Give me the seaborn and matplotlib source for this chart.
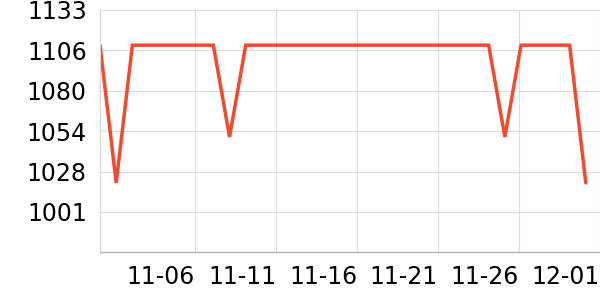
import matplotlib
matplotlib.use("Agg")
import matplotlib.pyplot as plt
import matplotlib.dates as mdates
import seaborn as sns
import numpy as np
import pandas as pd

# ---- data ----
start_date = "2023-10-31 03:00"
values = [1110, 1020, 1110, 1110, 1110, 1110, 1110, 1110, 1050, 1110,
          1110, 1110, 1110, 1110, 1110, 1110, 1110, 1110, 1110, 1110,
          1110, 1110, 1110, 1110, 1110, 1050, 1110, 1110, 1110, 1110,
          1020]
tick_dates = ["2023-11-06", "2023-11-11", "2023-11-16", "2023-11-21",
              "2023-11-26", "2023-12-01"]
tick_labels_x = ["11-06", "11-11", "11-16", "11-21", "11-26", "12-01"]
y_min, y_max = 974.6, 1133.0
tick_labels_y = ["1001", "1028", "1054", "1080", "1106", "1133"]

dates = pd.date_range(start_date, periods=len(values), freq="D")
df = pd.DataFrame({"date": dates, "value": values})

sns.set_style("white")
plt.rcParams["font.family"] = ["DejaVu Sans"]

fig = plt.figure(figsize=(6, 3), dpi=100)
ax = fig.add_axes([100 / 600, (300 - 252.3) / 300, 500 / 600, (252.3 - 10) / 300])

sns.lineplot(data=df, x="date", y="value", ax=ax, color="#f04a2f",
             linewidth=2.5, solid_joinstyle="miter")

ax.set_xlim(dates[0], dates[0] + pd.Timedelta(days=30.77))
ax.set_ylim(y_min, y_max)

yt = np.linspace(y_min, y_max, 7)[1:]
ax.set_yticks(yt)
ax.set_yticklabels(tick_labels_y)
ax.set_xticks(pd.to_datetime(tick_dates))
ax.set_xticklabels(tick_labels_x, ha="right")

ax.set_xlabel("")
ax.set_ylabel("")

ax.grid(True, color="#dddddd", linewidth=0.8)
ax.set_axisbelow(True)
for s in ["top", "right"]:
    ax.spines[s].set_visible(False)
ax.spines["left"].set_color("#d6d6d6")
ax.spines["left"].set_linewidth(0.8)
ax.spines["bottom"].set_color("#b5b5b5")
ax.spines["bottom"].set_linewidth(1.0)

ax.tick_params(axis="y", length=2.5, width=0.8, color="#cccccc", pad=7,
               labelsize=17, labelcolor="black")
ax.tick_params(axis="x", length=2.5, width=0.8, color="#b5b5b5", pad=7,
               labelsize=17, labelcolor="black")

fig.savefig("out.png", dpi=100)
